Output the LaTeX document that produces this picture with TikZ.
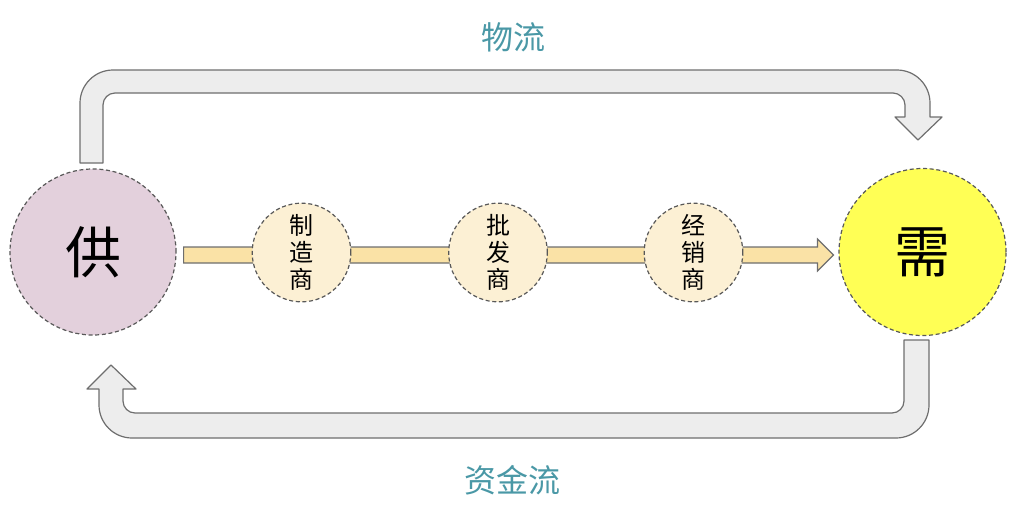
\documentclass[tikz,border=0pt]{standalone}
\usepackage{fontspec}
\newfontfamily\cjk{Noto Sans CJK SC}
\usetikzlibrary{calc}
\definecolor{arrowfill}{HTML}{EDEDED}
\definecolor{arrowline}{HTML}{6E6E6E}
\definecolor{supfill}{HTML}{E3D0DC}
\definecolor{demfill}{HTML}{FFFF55}
\definecolor{midfill}{HTML}{FCF0D4}
\definecolor{barfill}{HTML}{FAE2A6}
\definecolor{rimline}{HTML}{585858}
\definecolor{titleteal}{HTML}{4A98A6}
\tikzset{
  bigarrow/.style={fill=arrowfill, draw=arrowline, line width=0.9pt, line join=round},
  flowbar/.style={fill=barfill, draw=arrowline, line width=0.9pt, line join=miter},
  rim/.style={circle, draw=rimline, line width=0.9pt, dash pattern=on 3pt off 2pt, inner sep=0pt},
  endpoint/.style={rim, minimum size=125pt, font=\cjk\fontsize{42}{46}\selectfont},
  trader/.style={rim, fill=midfill, minimum size=74pt, align=center,
    font=\cjk\fontsize{18}{20.3}\selectfont},
  flowtitle/.style={text=titleteal, font=\cjk\fontsize{24}{28}\selectfont, inner sep=0pt}
}
\begin{document}
\begin{tikzpicture}[x=0.75pt, y=-0.75pt]
\useasboundingbox (0,0) rectangle (1024,518);

% goods flow: from supply over the top to demand
\draw[bigarrow] (80,163) -- (80,103) .. controls (80,84.8) and (94.8,70) .. (113,70)
  -- (897,70) .. controls (915.2,70) and (930,84.8) .. (930,103)
  -- (930,117) -- (942,117) -- (918,140) -- (895,117) -- (905,117)
  -- (905,105) .. controls (905,98.4) and (899.4,93) .. (893,93)
  -- (115,93) .. controls (108.4,93) and (103,98.4) .. (103,105)
  -- (103,163) -- cycle;

% money flow: from demand along the bottom back to supply
\draw[bigarrow] (904,340) -- (929,340) -- (929,405) .. controls (929,423.2) and (914.2,438) .. (896,438)
  -- (132,438) .. controls (113.8,438) and (99,423.2) .. (99,405)
  -- (99,389) -- (87,389) -- (111,365) -- (136,389) -- (123,389)
  -- (123,401) .. controls (123,407.6) and (128.4,413) .. (135,413)
  -- (892,413) .. controls (898.6,413) and (904,407.6) .. (904,401) -- cycle;

% end points
\node[endpoint, fill=supfill, minimum size=124.5pt] (sup) at (93,252) {供};
\node[endpoint, fill=demfill, minimum size=125.25pt] (dem) at (922.5,252) {需};

% supply chain bar with arrow head
\coordinate (barstart) at ($(sup.east)+(7,3)$);
\coordinate (bartip) at ($(dem.west)+(-5,3)$);
\draw[flowbar] ($(barstart)+(0,-8)$) -- ($(bartip)+(-16,-8)$) -- ($(bartip)+(-16,-16)$)
  -- (bartip) -- ($(bartip)+(-16,16)$) -- ($(bartip)+(-16,8)$)
  -- ($(barstart)+(0,8)$) -- cycle;

% intermediaries
\node[trader] (maker) at (301.5,252.5) {制\\造\\商};
\node[trader] (whole) at (498,252.5) {批\\发\\商};
\node[trader] (dist) at (693.5,252.5) {经\\销\\商};

% flow titles
\node[flowtitle] (goods) at (513,37) {物流};
\node[flowtitle] (money) at (512,480) {资金流};
\end{tikzpicture}
\end{document}
